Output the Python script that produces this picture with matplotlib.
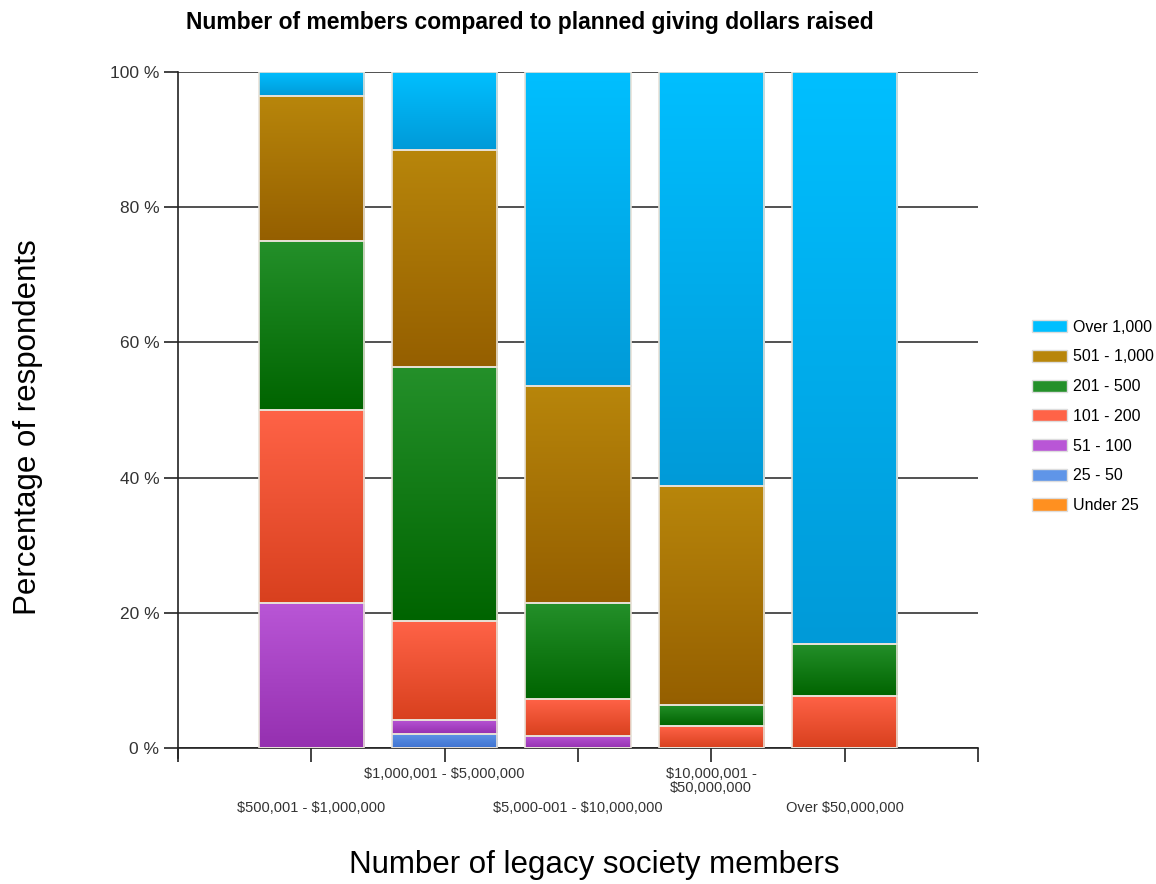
import numpy as np
import matplotlib.pyplot as plt
from matplotlib.colors import LinearSegmentedColormap
from matplotlib.patches import Patch

plt.rcParams['font.family'] = ['Liberation Sans', 'DejaVu Sans']
plt.rcParams['text.parse_math'] = False

categories = ['$500,001 - $1,000,000', '$1,000,001 - $5,000,000',
              '$5,000-001 - $10,000,000', '$10,000,001 -\n$50,000,000',
              'Over $50,000,000']
series = ['Under 25', '25 - 50', '51 - 100', '101 - 200', '201 - 500',
          '501 - 1,000', 'Over 1,000']

under_25 = [0, 0, 0, 0, 0]
r25_50 = [0, 2.1, 0, 0, 0]
r51_100 = [21.4, 2.1, 1.8, 0, 0]
r101_200 = [28.6, 14.6, 5.4, 3.2, 7.7]
r201_500 = [25.0, 37.5, 14.3, 3.2, 7.7]
r501_1000 = [21.4, 32.2, 32.1, 32.3, 0]
over_1000 = [3.6, 11.5, 46.4, 61.3, 84.6]

values = [under_25, r25_50, r51_100, r101_200, r201_500, r501_1000, over_1000]

# (top colour, bottom colour) for each series' vertical gradient
shades = [
    ('#ff9020', '#e06a00'),
    ('#5f95e8', '#3f72d0'),
    ('#b956d6', '#9530b0'),
    ('#ff6347', '#d8401e'),
    ('#24902a', '#006400'),
    ('#b8860b', '#955f00'),
    ('#00bfff', '#009ad8'),
]

fig = plt.figure(figsize=(11.56, 8.84), dpi=100)
ax = fig.add_axes([0.154, 0.1538, 0.692, 0.7648])

x = np.arange(1, len(categories) + 1)
width = 0.79
grad = np.linspace(0, 1, 256).reshape(-1, 1)

bottom = np.zeros(len(categories))
for vals, (top_c, bot_c) in zip(values, shades):
    vals = np.array(vals, dtype=float)
    cmap = LinearSegmentedColormap.from_list('seg', [top_c, bot_c])
    for xi, b, v in zip(x, bottom, vals):
        if v <= 0:
            continue
        ax.imshow(grad, cmap=cmap, aspect='auto', interpolation='bilinear',
                  extent=[xi - width / 2, xi + width / 2, b, b + v],
                  origin='upper', zorder=2)
    ax.bar(x, vals, width, bottom=bottom, facecolor='none',
           edgecolor='#e8e2d8', linewidth=1.2, zorder=3)
    bottom += vals

ax.set_xlim(0, 6)
ax.set_ylim(0, 100)

ax.set_yticks(np.arange(0, 101, 20))
ax.set_yticklabels([f'{v} %' for v in range(0, 101, 20)])
ax.yaxis.grid(True, color='#333333', linewidth=1.2, zorder=1)
ax.set_axisbelow(True)

ax.set_xticks(list(range(0, 7)))
ax.set_xticklabels([''] + categories + [''])
for i, tick in enumerate(ax.xaxis.get_major_ticks()):
    tick.set_pad(28 if i in (1, 3, 5) else 4)

ax.tick_params(axis='y', length=10, width=1.2, colors='#222222',
               labelsize=12.5, labelcolor='#333333')
ax.tick_params(axis='x', length=10, width=1.2, colors='#222222',
               labelsize=10.5, labelcolor='#333333')
for lab in ax.get_xticklabels():
    lab.set_linespacing(0.95)

for side in ('top', 'right'):
    ax.spines[side].set_visible(False)
for side in ('left', 'bottom'):
    ax.spines[side].set_color('#222222')
    ax.spines[side].set_linewidth(1.2)
ax.spines['left'].set_bounds(-1.5, 100)

fig.text(0.458, 0.975, 'Number of members compared to planned giving dollars raised',
         ha='center', va='center', fontsize=16.5, fontweight='bold')
fig.text(0.024, 0.517, 'Percentage of respondents', rotation=90,
         ha='center', va='center', fontsize=22.5)
fig.text(0.514, 0.021, 'Number of legacy society members',
         ha='center', va='center', fontsize=22.5)

handles = [Patch(facecolor=shades[i][0], edgecolor='#dddddd', label=series[i])
           for i in range(len(series) - 1, -1, -1)]
fig.legend(handles=handles, loc='center left', bbox_to_anchor=(0.893, 0.529),
           frameon=False, fontsize=11.5, handlelength=2.2, handleheight=0.8,
           labelspacing=0.92, handletextpad=0.35, borderaxespad=0.0,
           borderpad=0.0)

fig.savefig('out.png', dpi=100)
